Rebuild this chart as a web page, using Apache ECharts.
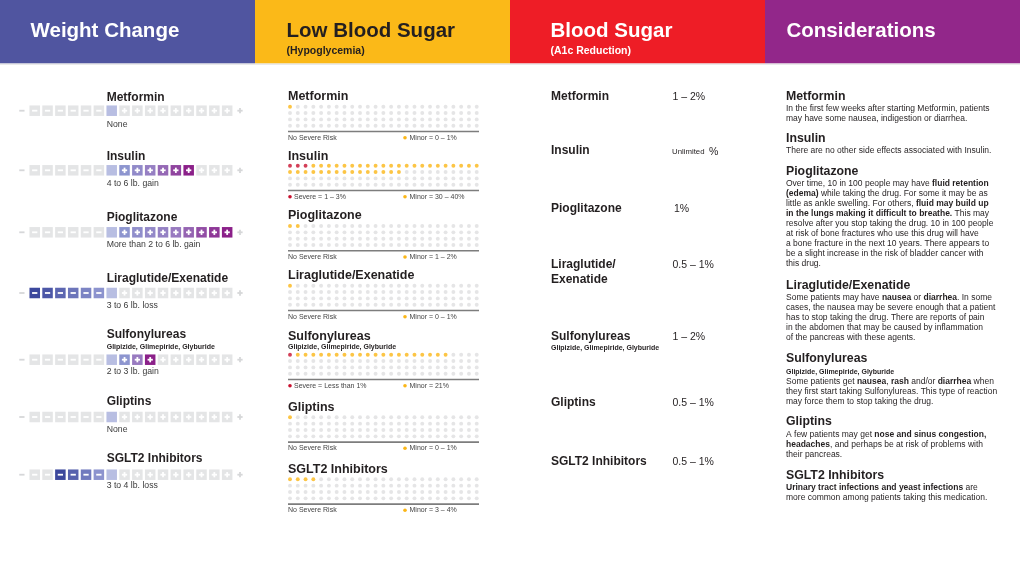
<!DOCTYPE html>
<html><head><meta charset="utf-8">
<script src="https://cdn.jsdelivr.net/npm/echarts@6/dist/echarts.min.js"></script>
<style>html,body{margin:0;padding:0;background:#fff}#c{width:1020px;height:573px}</style>
</head><body><div id="c"></div>
<script>
// ---------------- DATA ----------------
const drugs = ['Metformin','Insulin','Pioglitazone','Liraglutide/Exenatide','Sulfonylureas','Gliptins','SGLT2 Inhibitors'];
const sulfSubtitle = 'Glipizide, Glimepiride, Glyburide';
// weight change: number of filled squares (negative = loss, positive = gain)
const weightSquares = [0, 6, 9, -6, 3, 0, -4];
const weightLabels = ['None','4 to 6 lb. gain','More than 2 to 6 lb. gain','3 to 6 lb. loss','2 to 3 lb. gain','None','3 to 4 lb. loss'];
// hypoglycemia: dots out of 100
const hypoSevere = [0, 3, 0, 0, 1, 0, 0];
const hypoMinor = [1, 37, 2, 1, 20, 1, 4];
const hypoSevereLabels = ['No Severe Risk','Severe = 1 – 3%','No Severe Risk','No Severe Risk','Severe = Less than 1%','No Severe Risk','No Severe Risk'];
const hypoMinorLabels = ['Minor = 0 – 1%','Minor = 30 – 40%','Minor = 1 – 2%','Minor = 0 – 1%','Minor = 21%','Minor = 0 – 1%','Minor = 3 – 4%'];
// A1c reduction
const a1cReduction = ['1 – 2%','Unlimited %','1%','0.5 – 1%','1 – 2%','0.5 – 1%','0.5 – 1%'];
// considerations text (lines, {b|..} = bold)
const considerations = [
  ['In the first few weeks after starting Metformin, patients','may have some nausea, indigestion or diarrhea.'],
  ['There are no other side effects associated with Insulin.'],
  ['Over time, 10 in 100 people may have {b|fluid retention}','{b|(edema)} while taking the drug. For some it may be as','little as ankle swelling. For others, {b|fluid may build up}','{b|in the lungs making it difficult to breathe.} This may','resolve after you stop taking the drug. 10 in 100 people','at risk of bone fractures who use this drug will have','a bone fracture in the next 10 years. There appears to','be a slight increase in the risk of bladder cancer with','this drug.'],
  ['Some patients may have {b|nausea} or {b|diarrhea}. In some','cases, the nausea may be severe enough that a patient','has to stop taking the drug. There are reports of pain','in the abdomen that may be caused by inflammation','of the pancreas with these agents.'],
  ['Some patients get {b|nausea}, {b|rash} and/or {b|diarrhea} when','they first start taking Sulfonylureas. This type of reaction','may force them to stop taking the drug.'],
  ['A few patients may get {b|nose and sinus congestion,}','{b|headaches}, and perhaps be at risk of problems with','their pancreas.'],
  ['{b|Urinary tract infections and yeast infections} are','more common among patients taking this medication.']
];
const headers = ['Weight Change','Low Blood Sugar','Blood Sugar','Considerations'];
const headerSubs = ['','(Hypoglycemia)','(A1c Reduction)',''];

// ---------------- LAYOUT / STYLE ----------------
const FF = '"Liberation Sans", Arial, sans-serif';
const INK = '#231f20';
const headerColors = ['#5055a0','#fbb918','#ee1d26','#92278a'];
const headerText = ['#fff', INK, '#fff', '#fff'];
const weightNameY = [97.7,156.7,217.7,278.3,335,401.7,458.3];
const weightRowY = [110.7,170.3,232.3,293,359.7,417,474.7];
const weightLabelY = [125,184,245,305.7,371.7,429.3,485.7];
const dotTitleY = [96.7,156.7,216,276,336.7,407.3,469.3];
const dotRow0Y = [106.7,165.7,226,285.7,354.7,417.3,479.3];
const a1cY = [97,151,209,265,337,403,462];
const consHeadY = [96.7,138.3,171.7,285.7,358.3,421.7,475.7];
const consLineY = [108.3,150.3,183.7,297.7,381.7,434.3,487.3];

const SQ_PITCH = 12.83, SQ_CX = 111.7;
const DOT_PITCH_X = 7.78, DOT_PITCH_Y = 6.35, DOT_X0 = 290;
const YELLOW = '#fbb617', RED = '#c8102e', DOTGREY = '#dedfe0';

function lerp(a, b, t) { return a.map((v, i) => Math.round(v + (b[i] - v) * t)); }
function rgb(a) { return 'rgb(' + a.join(',') + ')'; }
function minusColor(k, n) {
  const t = n <= 1 ? 1 : (k - 1) / (n - 1);
  return rgb(lerp([140,147,206], [60,72,157], t));
}
function plusColor(k, n) {
  const t = n <= 1 ? 1 : (k - 1) / (n - 1);
  const s0 = [141,149,207], s1 = [152,122,192], s2 = [139,32,137];
  return rgb(t < 0.5 ? lerp(s0, s1, t * 2) : lerp(s1, s2, (t - 0.5) * 2));
}

function makeWeightRender(n) {
  return function (params, api) {
    const p = api.value(0);
    const c = api.coord([p, 0]);
    const unit = api.size([1, 0])[0];
    const s = unit * 0.82;
    const bw = s * 0.5, bt = 1.8;
    const children = [];
    let signColor = '#fff';
    if (p === -7 || p === 10) {
      signColor = '#d6d7d9';
    } else {
      let fill;
      if (p === 0) fill = '#b8bee2';
      else if (p < 0 && n < 0 && -p <= -n) fill = minusColor(-p, -n);
      else if (p > 0 && n > 0 && p <= n) fill = plusColor(p, n);
      else fill = '#e4e5e6';
      children.push({type:'rect', shape:{x:c[0]-s/2, y:c[1]-s/2, width:s, height:s}, style:{fill}});
    }
    if (p !== 0) {
      children.push({type:'rect', shape:{x:c[0]-bw/2, y:c[1]-bt/2, width:bw, height:bt}, style:{fill:signColor}});
      if (p > 0) children.push({type:'rect', shape:{x:c[0]-bt/2, y:c[1]-bw/2, width:bt, height:bw}, style:{fill:signColor}});
    }
    return {type:'group', children};
  };
}

function txt(x, y, text, size, weight, color, extra) {
  const st = Object.assign({text, x: 0, y: 0, fill: color || INK, fontSize: size, fontFamily: FF, fontWeight: weight || 'normal', align: 'left', verticalAlign: 'middle'}, extra || {});
  return {type:'text', x, y, silent:true, style: st};
}

// ---------------- BUILD ----------------
const grid = [], xAxis = [], yAxis = [], series = [], graphics = [];

// header
headers.forEach((h, i) => {
  graphics.push({type:'rect', shape:{x:i*255, y:0, width:255, height:63.5}, style:{fill:headerColors[i]}, silent:true});
});
graphics.push({type:'rect', shape:{x:0, y:63.5, width:1020, height:1.2}, style:{fill:'#e3e3e3'}, silent:true});
const headX = [30.5, 286.5, 550.5, 786.5];
headers.forEach((h, i) => {
  graphics.push(txt(headX[i], 31, h, 20.5, 'bold', headerText[i]));
  if (headerSubs[i]) graphics.push(txt(headX[i], 51, headerSubs[i], 10.5, 'bold', headerText[i]));
});

const weightPositions = [];
for (let p = -7; p <= 10; p++) weightPositions.push([p, 0]);

drugs.forEach((d, i) => {
  // ---- weight change ----
  graphics.push(txt(106.7, weightNameY[i], d, 12, 'bold', INK));
  if (i === 4) graphics.push(txt(106.7, 346.7, sulfSubtitle, 7, 'bold', INK));
  graphics.push(txt(106.7, weightLabelY[i], weightLabels[i], 8.7, 'normal', '#3a3a3a'));
  const gi = grid.length;
  grid.push({left: SQ_CX - 7.5 * SQ_PITCH, width: 18 * SQ_PITCH, top: weightRowY[i] - 6, height: 12});
  xAxis.push({gridIndex: gi, type:'value', min:-7.5, max:10.5, show:false});
  yAxis.push({gridIndex: gi, type:'value', min:-1, max:1, show:false});
  series.push({type:'custom', xAxisIndex: gi, yAxisIndex: gi, silent:true, renderItem: makeWeightRender(weightSquares[i]), data: weightPositions});

  // ---- hypoglycemia dots ----
  graphics.push(txt(288, dotTitleY[i], d, 12.5, 'bold', INK));
  if (i === 4) graphics.push(txt(288, 347.3, sulfSubtitle, 7, 'bold', INK));
  const gj = grid.length;
  grid.push({left: DOT_X0 - DOT_PITCH_X / 2, width: 25 * DOT_PITCH_X, top: dotRow0Y[i] - DOT_PITCH_Y / 2, height: 4 * DOT_PITCH_Y});
  xAxis.push({gridIndex: gj, type:'value', min:-0.5, max:24.5, show:false});
  yAxis.push({gridIndex: gj, type:'value', min:-0.5, max:3.5, inverse:true, show:false});
  const dots = [];
  for (let k = 0; k < 100; k++) {
    const color = k < hypoSevere[i] ? RED : (k < hypoSevere[i] + hypoMinor[i] ? YELLOW : DOTGREY);
    dots.push({value:[k % 25, Math.floor(k / 25)], itemStyle:{color}});
  }
  series.push({type:'scatter', xAxisIndex: gj, yAxisIndex: gj, silent:true, symbol:'circle', symbolSize:3.9, data: dots});
  const lineY = dotRow0Y[i] + 24.8;
  graphics.push({type:'rect', shape:{x:288, y:lineY - 0.8, width:191, height:1.6}, style:{fill:'#7d7d7d'}, silent:true});
  const legY = dotRow0Y[i] + 31;
  if (hypoSevere[i] > 0) {
    graphics.push({type:'circle', shape:{cx:290, cy:legY, r:1.8}, style:{fill:RED}, silent:true});
    graphics.push(txt(294, legY, hypoSevereLabels[i], 7, 'normal', '#444'));
  } else {
    graphics.push(txt(288, legY, hypoSevereLabels[i], 7, 'normal', '#444'));
  }
  graphics.push({type:'circle', shape:{cx:405, cy:legY, r:1.8}, style:{fill:YELLOW}, silent:true});
  graphics.push(txt(409.5, legY, hypoMinorLabels[i], 7, 'normal', '#444'));

  // ---- A1c reduction ----
  if (i === 3) {
    graphics.push(txt(551, a1cY[i], 'Liraglutide/', 12, 'bold', INK));
    graphics.push(txt(551, 280, 'Exenatide', 12, 'bold', INK));
  } else {
    graphics.push(txt(551, a1cY[i], d, 12, 'bold', INK));
  }
  if (i === 4) graphics.push(txt(551, 348, sulfSubtitle, 7, 'bold', INK));
  const val = a1cReduction[i];
  if (val.indexOf('Unlimited') === 0) {
    graphics.push(txt(672, a1cY[i] + 1, 'Unlimited', 7.8, 'normal', INK));
    graphics.push(txt(709, a1cY[i] + 1, val.replace('Unlimited', '').trim(), 10.5, 'normal', INK));
  } else {
    graphics.push(txt(val === '1%' ? 674 : 672.5, a1cY[i], val, 10.5, 'normal', INK));
  }

  // ---- considerations ----
  graphics.push(txt(786, consHeadY[i], d, 12.3, 'bold', INK));
  if (i === 4) graphics.push(txt(786, 371.7, sulfSubtitle, 7, 'bold', INK));
  considerations[i].forEach((line, li) => {
    graphics.push(txt(786, consLineY[i] + li * 10, line, 8.5, 'normal', INK,
      {rich: {b: {fontSize: 8.5, fontFamily: FF, fontWeight: 'bold', fill: INK}}}));
  });
});

const chart = echarts.init(document.getElementById('c'), null, {renderer:'canvas'});
chart.setOption({
  animation: false,
  backgroundColor: '#fff',
  grid, xAxis, yAxis, series,
  graphic: {elements: graphics}
});
</script></body></html>
